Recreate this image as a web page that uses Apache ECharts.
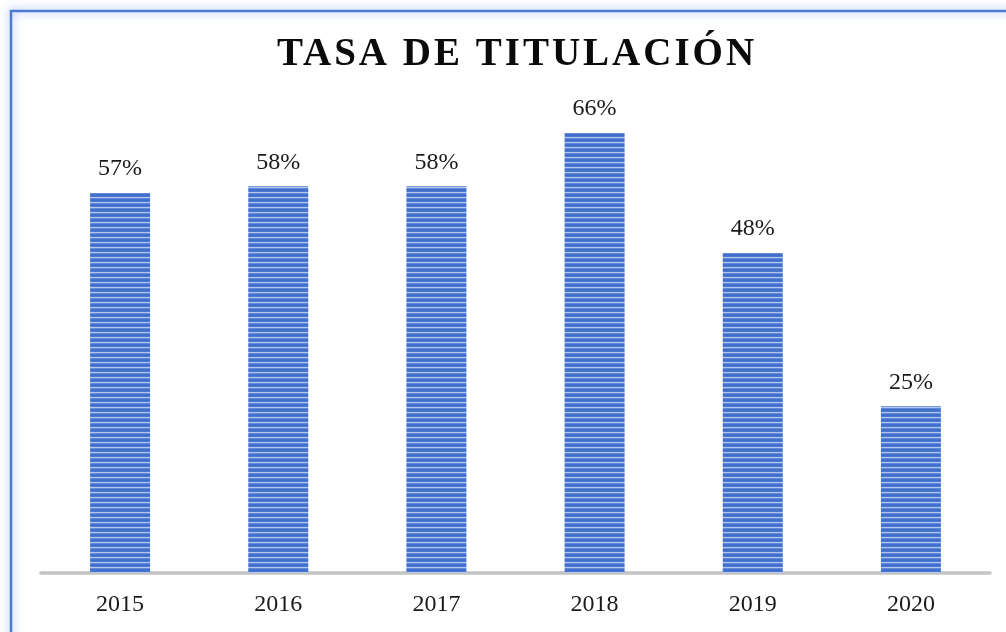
<!DOCTYPE html>
<html>
<head>
<meta charset="utf-8">
<script src="https://cdn.jsdelivr.net/npm/echarts@6/dist/echarts.min.js"></script>
<style>
html,body{margin:0;padding:0;background:#fff;}
#c{width:1006px;height:632px;}
</style>
</head>
<body>
<div id="c"></div>
<script>
const titleText = 'TASA DE TITULACIÓN';
const years = ['2015', '2016', '2017', '2018', '2019', '2020'];
const rates = [57, 58, 58, 66, 48, 25];

// letter spacing for the title font only (canvas native letterSpacing)
(function () {
  const proto = CanvasRenderingContext2D.prototype;
  const orig = proto.fillText;
  proto.fillText = function (t, x, y, mw) {
    const wide = /bold/.test(this.font) && /39px/.test(this.font);
    if (wide && 'letterSpacing' in this) {
      const prev = this.letterSpacing;
      this.letterSpacing = '3px';
      const r = mw === undefined ? orig.call(this, t, x, y) : orig.call(this, t, x, y, mw);
      this.letterSpacing = prev;
      return r;
    }
    return mw === undefined ? orig.call(this, t, x, y) : orig.call(this, t, x, y, mw);
  };
})();

// striped fill pattern
const pat = document.createElement('canvas');
pat.width = 8; pat.height = 5;
const pc = pat.getContext('2d');
const rows = ['#3f6dca', '#4b79d2', '#b3c7ee', '#5f89d8', '#4572cd'];
rows.forEach((c, i) => { pc.fillStyle = c; pc.fillRect(0, i, 8, 1); });

const chart = echarts.init(document.getElementById('c'), null, {renderer: 'canvas'});
chart.setOption({
  backgroundColor: '#ffffff',
  animation: false,
  title: {
    text: titleText,
    left: 512,
    textAlign: 'center',
    top: 30,
    textStyle: {
      fontFamily: 'Liberation Serif',
      fontWeight: 'bold',
      fontSize: 39,
      color: '#0a0a0a'
    }
  },
  graphic: [{
    type: 'rect',
    shape: {x: 11, y: 11, width: 1200, height: 800},
    style: {
      fill: 'rgba(0,0,0,0)',
      stroke: '#4a7bd0',
      lineWidth: 2.5,
      shadowBlur: 10,
      shadowColor: 'rgba(110,145,235,0.85)'
    },
    silent: true,
    z: 100
  }],
  grid: {left: 41, right: 16, top: 106.33, height: 466.67, containLabel: false},
  xAxis: {
    type: 'category',
    data: years,
    axisLine: {lineStyle: {color: '#c4c4c4', width: 3.5}},
    axisTick: {show: false},
    axisLabel: {
      margin: 20,
      fontFamily: 'Liberation Serif',
      fontSize: 24,
      color: '#1a1a1a'
    }
  },
  yAxis: {
    type: 'value',
    min: 0, max: 70,
    show: false,
    splitLine: {show: false}
  },
  series: [{
    type: 'bar',
    data: rates,
    barWidth: 60,
    itemStyle: {color: {image: pat, repeat: 'repeat'}},
    label: {
      show: true,
      position: 'top',
      distance: 12,
      formatter: '{c}%',
      fontFamily: 'Liberation Serif',
      fontSize: 24,
      color: '#1a1a1a'
    }
  }]
});
</script>
</body>
</html>
